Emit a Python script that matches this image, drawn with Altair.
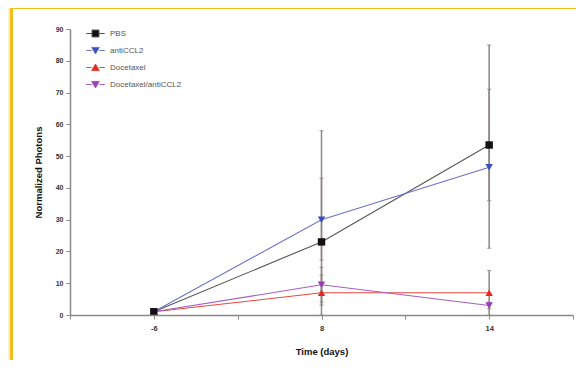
import json
import altair as alt
import pandas as pd

days = ["-6", "8", "14"]
series = ["PBS", "antiCCL2", "Docetaxel", "Docetaxel/antiCCL2"]
pbs = [1, 23, 53.5]
anti = [1, 30, 46.5]
doce = [1, 7, 7]
doce_anti = [1, 9.5, 3]
# error bar ends (low, high)
pbs_lo = [1, 0, 21]
pbs_hi = [1, 58, 85]
anti_lo = [1, 17.3, 36]
anti_hi = [1, 43, 71]
doce_lo = [1, 3.1, 0]
doce_hi = [1, 12.6, 14]
doce_anti_lo = [1, 4, 2]
doce_anti_hi = [1, 15, 4]

colors = ["#111111", "#3b4cc0", "#e8281e", "#9a3db5"]
line_colors = ["#555555", "#6a74c6", "#e8483e", "#a55ec0"]
shapes = ["square", "triangle-down", "triangle-up", "triangle-down"]
legend_shapes = [
    "M-1.2,0H-0.45M0.45,0H1.2M-0.45,-0.45H0.45V0.45H-0.45Z",
    "M-1.2,0H-0.5M0.5,0H1.2M-0.5,-0.4L0.5,-0.4L0,0.45Z",
    "M-1.2,0H-0.5M0.5,0H1.2M-0.5,0.4L0.5,0.4L0,-0.45Z",
    "M-1.2,0H-0.5M0.5,0H1.2M-0.5,-0.4L0.5,-0.4L0,0.45Z",
]

vals = [pbs, anti, doce, doce_anti]
los = [pbs_lo, anti_lo, doce_lo, doce_anti_lo]
his = [pbs_hi, anti_hi, doce_hi, doce_anti_hi]
rows = []
for k, (s, v, lo, hi) in enumerate(zip(series, vals, los, his)):
    for i, d in enumerate(days):
        rows.append({"series": s, "rank": len(series) - k, "idx": i, "day": d,
                     "value": v[i], "lo": lo[i], "hi": hi[i]})
df = pd.DataFrame(rows)

label_expr = ("(datum.value % 1 == 0 && datum.value >= 0 && datum.value <= 2) ? "
              + json.dumps(days) + "[datum.value] : ''")

x = alt.X("idx:Q", scale=alt.Scale(domain=[-0.5, 2.5], nice=False, zero=False),
          axis=alt.Axis(values=[-0.5, 0, 0.5, 1, 1.5, 2, 2.5], labelExpr=label_expr,
                        title="Time (days)", grid=False, domainColor="#8a8a8a",
                        tickColor="#8a8a8a", tickSize=4, labelFontSize=7.5,
                        labelFontWeight="bold", labelColor="#333", labelPadding=5,
                        titleFontSize=9.5, titleFontWeight="bold", titlePadding=15,
                        titleColor="#111", labelFont="Liberation Sans",
                        titleFont="Liberation Sans", zindex=1, domainWidth=1.5))
y_axis = alt.Axis(values=list(range(0, 91, 10)), title="Normalized Photons", grid=False,
                  domainColor="#8a8a8a", tickColor="#8a8a8a", tickSize=4,
                  labelFontSize=7, labelFontWeight="bold", labelColor="#333",
                  labelPadding=3, titleFontSize=9.5, titleFontWeight="bold",
                  titlePadding=12, titleColor="#111", labelFont="Liberation Sans",
                  titleFont="Liberation Sans", zindex=1, domainWidth=1.5)
yscale = alt.Scale(domain=[0, 90], nice=False)
y = alt.Y("value:Q", scale=yscale, axis=y_axis)

base = alt.Chart(df)

frame_gold = base.mark_rect(color="#f4bd1e").encode(
    x=alt.value(-60), x2=alt.value(600), y=alt.value(-23), y2=alt.value(400))
frame_white = base.mark_rect(color="#ffffff").encode(
    x=alt.value(-57), x2=alt.value(600), y=alt.value(-20), y2=alt.value(400))

err = base.mark_rule(color="#8c8585", strokeWidth=1.5).encode(
    x=x, y=alt.Y("lo:Q", scale=yscale, axis=y_axis), y2="hi:Q")
cap_hi = base.mark_tick(color="#8c8585", orient="horizontal", size=4, thickness=1.2).encode(
    x=x, y=alt.Y("hi:Q", scale=yscale, axis=y_axis))
cap_lo = base.mark_tick(color="#8c8585", orient="horizontal", size=4, thickness=1.2).encode(
    x=x, y=alt.Y("lo:Q", scale=yscale, axis=y_axis))

lines = base.mark_line(strokeWidth=1.1).encode(
    x=x, y=y,
    color=alt.Color("series:N", scale=alt.Scale(domain=series, range=line_colors), legend=None),
    detail="series:N")

points = base.mark_point(filled=True, size=55, opacity=1).encode(
    x=x, y=y,
    fill=alt.Fill("series:N", scale=alt.Scale(domain=series, range=colors), legend=None),
    shape=alt.Shape("series:N", scale=alt.Scale(domain=series, range=shapes), legend=None),
    order=alt.Order("rank:Q"))

leg = alt.Legend(title=None, orient="none", legendX=17, legendY=-4,
                 symbolSize=237, symbolStrokeWidth=1, symbolOpacity=1,
                 labelFontSize=8, labelColor="#555", labelFont="Liberation Sans",
                 rowPadding=3, labelOffset=6)
leg_df = pd.DataFrame({"series": series})
legend_layer = alt.Chart(leg_df).mark_point(filled=False, opacity=0).encode(
    x=alt.value(0), y=alt.value(0),
    fill=alt.Fill("series:N", scale=alt.Scale(domain=series, range=colors), legend=leg),
    stroke=alt.Stroke("series:N", scale=alt.Scale(domain=series, range=line_colors), legend=leg),
    shape=alt.Shape("series:N", scale=alt.Scale(domain=series, range=legend_shapes), legend=leg))

main = alt.layer(err, cap_hi, cap_lo, lines, points)
chart = alt.layer(frame_gold, frame_white, main, legend_layer).resolve_scale(
    color="independent", shape="independent", fill="independent", stroke="independent"
).properties(
    width=503, height=286,
    autosize=alt.AutoSizeParams(type="none"),
    padding={"left": 62, "top": 21, "right": 3, "bottom": 45},
    background="#fcefd2",
).configure_view(stroke=None)

chart.save("out.html", embed_options={"renderer": "svg", "actions": False})
